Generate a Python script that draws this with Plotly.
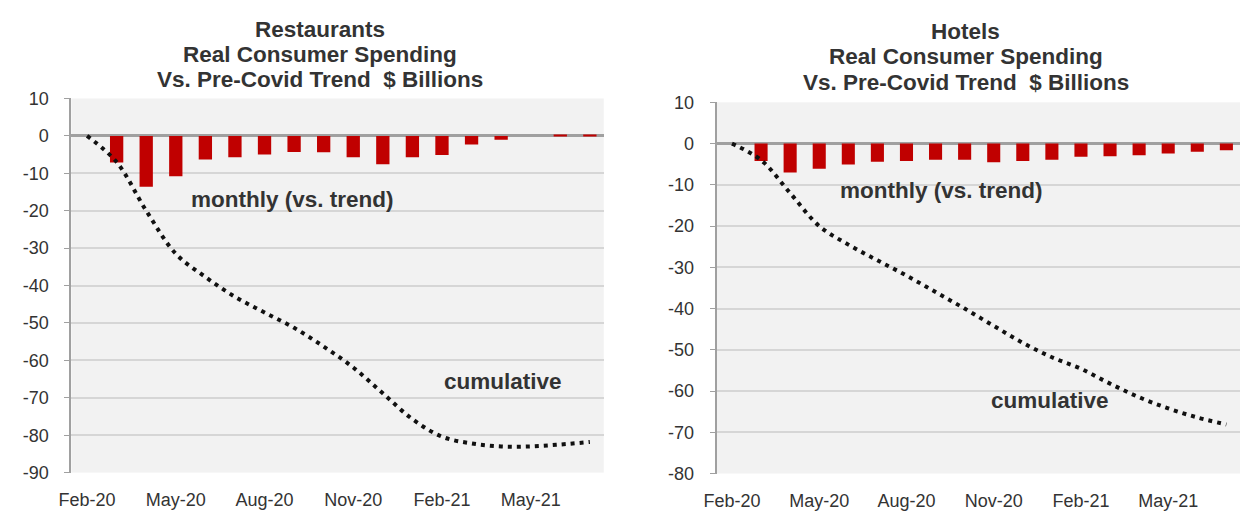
import plotly.graph_objects as go

months = ["Feb-20", "Mar-20", "Apr-20", "May-20", "Jun-20", "Jul-20", "Aug-20", "Sep-20",
          "Oct-20", "Nov-20", "Dec-20", "Jan-21", "Feb-21", "Mar-21", "Apr-21", "May-21",
          "Jun-21", "Jul-21"]
tick_labels = ["Feb-20", "May-20", "Aug-20", "Nov-20", "Feb-21", "May-21"]

rest_monthly = [None, -7.1, -13.6, -10.8, -6.3, -5.7, -5.0, -4.3, -4.4, -5.7, -7.6, -5.7,
                -5.1, -2.3, -1.0, 0.0, 0.3, 0.3]
rest_cumulative = [0, -7, -20, -31.5, -37.7, -43, -47.2, -51.3, -56.3, -61.9, -68.8, -75.7,
                   -80.4, -82.2, -83, -83, -82.5, -81.8]
rest_yticks = [10, 0, -10, -20, -30, -40, -50, -60, -70, -80, -90]

hotel_monthly = [None, -4.2, -7.0, -6.1, -5.1, -4.4, -4.2, -3.9, -3.9, -4.5, -4.2, -3.9,
                 -3.2, -3.1, -2.8, -2.4, -2.0, -1.6]
hotel_cumulative = [0, -4, -12, -20, -24.5, -28.3, -32, -36, -40, -44.2, -48.3, -51.8,
                    -54.6, -58.2, -61.5, -64.2, -66.4, -68.1]
hotel_yticks = [10, 0, -10, -20, -30, -40, -50, -60, -70, -80]

BAR = "#c00000"
TXT = "#333333"
FONT = "Liberation Sans, Arial, sans-serif"

fig = go.Figure()
fig.add_trace(go.Bar(x=months, y=rest_monthly, marker=dict(color=BAR, line=dict(width=0)),
                     width=0.45, xaxis="x", yaxis="y", showlegend=False))
fig.add_trace(go.Scatter(x=months, y=rest_cumulative, mode="lines",
                         line=dict(color="#111111", width=4, dash="4px,5px", shape="spline"),
                         xaxis="x", yaxis="y", showlegend=False))
fig.add_trace(go.Bar(x=months, y=hotel_monthly, marker=dict(color=BAR, line=dict(width=0)),
                     width=0.45, xaxis="x2", yaxis="y2", showlegend=False))
fig.add_trace(go.Scatter(x=months, y=hotel_cumulative, mode="lines",
                         line=dict(color="#111111", width=4, dash="4px,5px", shape="spline"),
                         xaxis="x2", yaxis="y2", showlegend=False))

xcommon = dict(type="category", range=[-0.53, 17.47], tickmode="array", tickvals=tick_labels,
               ticktext=tick_labels, showgrid=False, showline=False, zeroline=False,
               ticks="outside", ticklen=11, tickcolor="rgba(0,0,0,0)",
               tickfont=dict(size=18, color=TXT, family=FONT), fixedrange=True)
ycommon = dict(showgrid=True, gridcolor="#d6d6d6", gridwidth=1.5,
               zeroline=True, zerolinecolor="#a0a0a0", zerolinewidth=2.5,
               showline=True, linecolor="#a0a0a0", linewidth=2,
               ticks="outside", ticklen=5, tickcolor="#a0a0a0", ticklabelstandoff=12,
               tickfont=dict(size=18, color=TXT, family=FONT), fixedrange=True,
               tickmode="array")

fig.update_layout(
    width=1244, height=523,
    margin=dict(l=0, r=0, t=0, b=0),
    paper_bgcolor="white", plot_bgcolor="#f2f2f2",
    font=dict(family=FONT, color=TXT),
    xaxis=dict(domain=[59 / 1244, 597 / 1244], anchor="y", **xcommon),
    yaxis=dict(domain=[1 - 481 / 523, 1 - 92 / 523], range=[-90, 10], anchor="x",
               tickvals=rest_yticks, ticktext=[str(v) for v in rest_yticks], **ycommon),
    xaxis2=dict(domain=[711 / 1244, 1240 / 1244], anchor="y2", **xcommon),
    yaxis2=dict(domain=[1 - 482 / 523, 1 - 96 / 523], range=[-80, 10], anchor="x2",
                tickvals=hotel_yticks, ticktext=[str(v) for v in hotel_yticks], **ycommon),
)

anns = []
titles_left = ["Restaurants", "Real Consumer Spending", "Vs. Pre-Covid Trend  $ Billions"]
titles_right = ["Hotels", "Real Consumer Spending", "Vs. Pre-Covid Trend  $ Billions"]
for i, t in enumerate(titles_left):
    anns.append(dict(text=f"<b>{t}</b>", xref="paper", yref="paper", x=310 / 1244,
                     y=1 - (20 + 26 * i) / 523, xanchor="center", yanchor="middle",
                     showarrow=False, font=dict(size=22.5, color=TXT, family=FONT)))
for i, t in enumerate(titles_right):
    anns.append(dict(text=f"<b>{t}</b>", xref="paper", yref="paper", x=963 / 1244,
                     y=1 - (22 + 26.5 * i) / 523, xanchor="center", yanchor="middle",
                     showarrow=False, font=dict(size=22.5, color=TXT, family=FONT)))

ann_font = dict(size=22.5, color=TXT, family=FONT)
anns.append(dict(text="<b>monthly (vs. trend)</b>", xref="x", yref="y", x=6.96, y=-17,
                 showarrow=False, font=ann_font))
anns.append(dict(text="<b>cumulative</b>", xref="x", yref="y", x=14.05, y=-65.6,
                 showarrow=False, font=ann_font))
anns.append(dict(text="<b>monthly (vs. trend)</b>", xref="x2", yref="y2", x=7.2, y=-11.4,
                 showarrow=False, font=ann_font))
anns.append(dict(text="<b>cumulative</b>", xref="x2", yref="y2", x=10.95, y=-62.3,
                 showarrow=False, font=ann_font))
fig.update_layout(annotations=anns)

fig.write_html("out.html")
